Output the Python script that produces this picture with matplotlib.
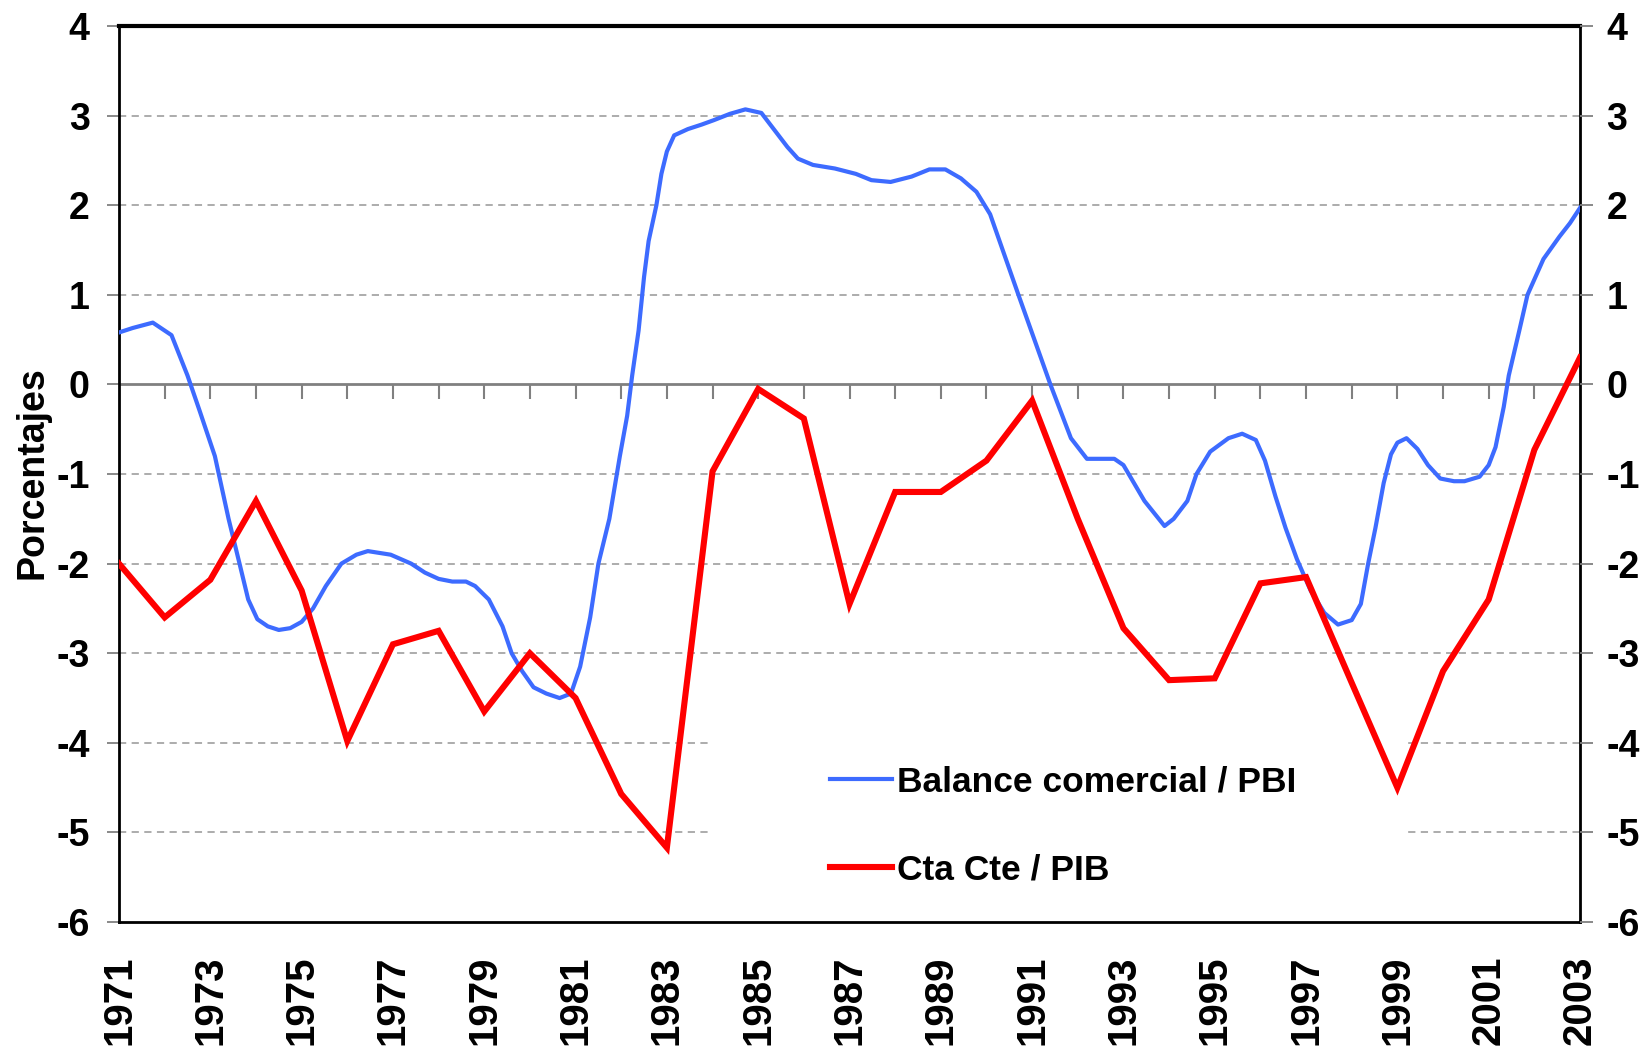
import matplotlib
matplotlib.use('Agg')
import matplotlib.pyplot as plt
import numpy as np

# Cta Cte / PIB (annual)
years_cc = list(range(1971, 2004))
cta_cte = [-2.0, -2.6, -2.18, -1.3, -2.3, -3.98, -2.9, -2.75, -3.65, -3.0,
           -3.5, -4.57, -5.17, -0.97, -0.05, -0.38, -2.45, -1.2, -1.2, -0.85,
           -0.18, -1.5, -2.72, -3.3, -3.28, -2.22, -2.15, -3.33, -4.5, -3.2,
           -2.4, -0.73, 0.3]

# Balance comercial / PBI (smoothed)
years_bc = [1971.0, 1971.3, 1971.74, 1972.15, 1972.5, 1972.77, 1973.1, 1973.4,
            1973.64, 1973.83, 1974.03, 1974.26, 1974.5, 1974.75, 1975.0, 1975.25,
            1975.53, 1975.87, 1976.2, 1976.45, 1976.95, 1977.4, 1977.7, 1978.0,
            1978.3, 1978.6, 1978.8, 1979.1, 1979.4, 1979.6, 1979.83, 1980.08,
            1980.36, 1980.65, 1980.9, 1981.1, 1981.32, 1981.5, 1981.74, 1981.97,
            1982.13, 1982.24, 1982.38, 1982.5, 1982.6, 1982.77, 1982.88, 1983.0,
            1983.16, 1983.46, 1983.76, 1984.03, 1984.38, 1984.72, 1985.07, 1985.34,
            1985.64, 1985.87, 1986.2, 1986.68, 1987.14, 1987.48, 1987.9, 1988.36,
            1988.75, 1989.1, 1989.44, 1989.78, 1990.08, 1990.7, 1991.4, 1991.85,
            1992.2, 1992.8, 1993.0, 1993.46, 1993.9, 1994.1, 1994.4, 1994.6,
            1994.9, 1995.3, 1995.6, 1995.9, 1996.1, 1996.33, 1996.55, 1996.8,
            1997.1, 1997.4, 1997.7, 1998.0, 1998.2, 1998.36, 1998.52, 1998.7,
            1998.86, 1999.0, 1999.2, 1999.44, 1999.67, 1999.94, 2000.24, 2000.47,
            2000.8, 2001.0, 2001.15, 2001.33, 2001.44, 2001.67, 2001.85, 2002.2,
            2002.55, 2002.78, 2003.0]
balance = [0.58, 0.63, 0.69, 0.55, 0.1, -0.3, -0.8, -1.5,
           -2.0, -2.4, -2.62, -2.7, -2.74, -2.72, -2.65, -2.5,
           -2.25, -2.0, -1.9, -1.86, -1.9, -2.0, -2.1, -2.17,
           -2.2, -2.2, -2.25, -2.4, -2.7, -3.0, -3.2, -3.38,
           -3.45, -3.5, -3.45, -3.15, -2.6, -2.0, -1.5, -0.8,
           -0.35, 0.1, 0.6, 1.2, 1.6, 2.0, 2.35, 2.6,
           2.78, 2.85, 2.9, 2.95, 3.02, 3.07, 3.03, 2.85,
           2.65, 2.52, 2.45, 2.41, 2.35, 2.28, 2.26, 2.32,
           2.4, 2.4, 2.3, 2.15, 1.9, 1.0, 0.0, -0.6,
           -0.83, -0.83, -0.9, -1.3, -1.58, -1.5, -1.3, -1.0,
           -0.75, -0.6, -0.55, -0.62, -0.85, -1.25, -1.6, -1.95,
           -2.3, -2.55, -2.68, -2.63, -2.45, -2.0, -1.6, -1.1,
           -0.78, -0.65, -0.6, -0.72, -0.9, -1.05, -1.08, -1.08,
           -1.03, -0.9, -0.7, -0.25, 0.1, 0.6, 1.0, 1.4,
           1.65, 1.8, 1.97]

xtick_years = list(range(1971, 2004, 2))
yticks = list(range(-6, 5))

narrow = ['Liberation Sans Narrow', 'Liberation Sans', 'DejaVu Sans']
wide = ['Liberation Sans', 'DejaVu Sans']

fig = plt.figure(figsize=(16.46, 10.46), dpi=100, facecolor='white')
ax = fig.add_axes([0.0723, 0.1185, 0.8876, 0.8566])
ax.set_xlim(1971, 2003)
ax.set_ylim(-6, 4)

# dashed grid
for y in yticks:
    if y not in (0, 4, -6):
        ax.axhline(y, color='#A6A6A6', lw=1.3, ls=(0, (4, 3)), zorder=1)

# white area behind the legend (hides gridlines like the original)
ax.axvspan(1983.92, 1999.2, ymin=0.02, ymax=0.25, color='white', zorder=1.5, lw=0)

# zero line with yearly ticks
ax.axhline(0, color='#808080', lw=2, zorder=2)
ax.plot(years_cc[1:-1], [0] * (len(years_cc) - 2), ls='none', marker=3,
        markersize=11, mew=1.5, color='#808080', zorder=2)

ax.plot(years_bc, balance, color='#3D6BFF', lw=3.0, zorder=3,
        label='Balance comercial / PBI')
ax.plot(years_cc, cta_cte, color='#FF0000', lw=4.4, zorder=4,
        label='Cta Cte / PIB', solid_joinstyle='miter')

ax.set_yticks(yticks)
ax.set_yticklabels([str(v) for v in yticks], family=narrow, fontweight='bold', fontsize=27)
ax.tick_params(axis='y', direction='out', length=9, width=1.3, color='#808080', pad=12)
ax.set_xticks(xtick_years)
ax.set_xticklabels([str(v) for v in xtick_years], rotation=90, family=wide,
                   fontweight='bold', fontsize=29, va='top')
ax.tick_params(axis='x', length=0, pad=24)

for side in ['left', 'bottom', 'right']:
    ax.spines[side].set_linewidth(2)
    ax.spines[side].set_color('black')
ax.spines['top'].set_linewidth(3)

ax2 = ax.twinx()
ax2.set_ylim(-6, 4)
ax2.set_yticks(yticks)
ax2.set_yticklabels([str(v) for v in yticks], family=narrow, fontweight='bold', fontsize=27)
ax2.tick_params(axis='y', direction='out', length=9, width=1.3, color='#808080', pad=10)
for sp in ax2.spines.values():
    sp.set_visible(False)

fig.text(0.02, 0.548, 'Porcentajes', rotation=90, ha='center', va='center',
         family=wide, fontweight='bold', fontsize=27)

leg = ax.legend(loc='upper left', bbox_to_anchor=(830 / 1646, 0.268),
                bbox_transform=fig.transFigure, frameon=False, borderpad=0,
                borderaxespad=0, handlelength=1.75, handletextpad=0.15,
                labelspacing=1.55, prop={'family': narrow, 'weight': 'bold', 'size': 25.5})
leg.set_zorder(6)

fig.savefig('out.png', dpi=100, facecolor='white')
